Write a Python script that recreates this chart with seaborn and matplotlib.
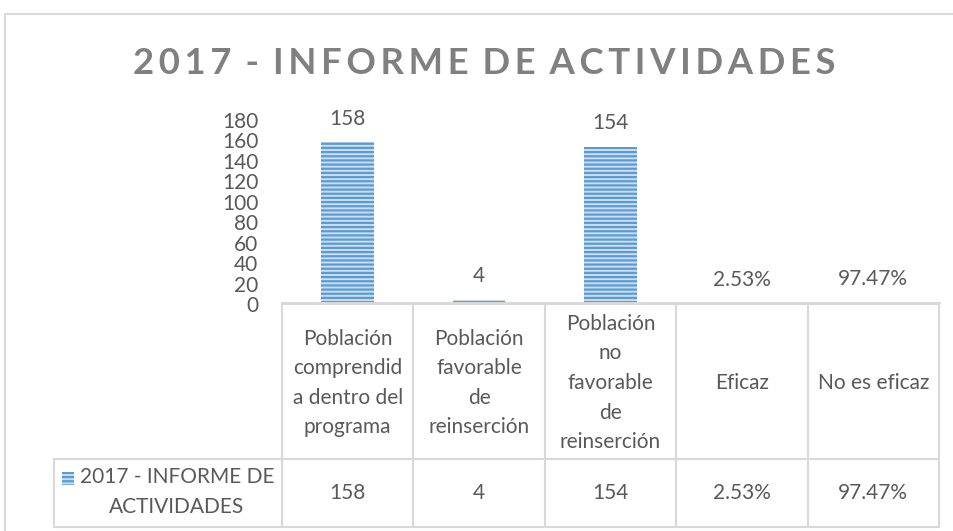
import matplotlib
matplotlib.use('Agg')
import matplotlib.pyplot as plt
import matplotlib.transforms as mtransforms
from matplotlib.lines import Line2D
from matplotlib.patches import Rectangle
import pandas as pd
import seaborn as sns

# datos del gráfico
titulo = '2017 - INFORME DE ACTIVIDADES'
categorias = ['Población\ncomprendid\na dentro del\nprograma',
              'Población\nfavorable\nde\nreinserción',
              'Población\nno\nfavorable\nde\nreinserción',
              'Eficaz',
              'No es eficaz']
valores = [158, 4, 154, 0.0253, 0.9747]
etiquetas = ['158', '4', '154', '2.53%', '97.47%']
serie = '2017 - INFORME DE\nACTIVIDADES'
ticks_y = [0, 20, 40, 60, 80, 100, 120, 140, 160, 180]

gris_texto = '#595959'
gris_linea = '#d9d9d9'
azul = '#5b9bd5'
azul_claro = '#c9ddf2'

sns.set_theme(style='white')
plt.rcParams['font.family'] = ['Lato', 'DejaVu Sans']
plt.rcParams['hatch.linewidth'] = 1.6

W, H = 954, 531
fig = plt.figure(figsize=(W / 100, H / 100), dpi=100)

def fx(px):
    return px / W

def fy(py):
    return 1 - py / H

ax = fig.add_axes([fx(282), fy(304), fx(939) - fx(282), fy(120) - fy(304)])

df = pd.DataFrame({'cat': categorias, 'valor': valores})
sns.barplot(data=df, x='cat', y='valor', ax=ax, width=0.4,
            color=azul_claro, edgecolor=azul, linewidth=0)
for p in ax.patches:
    p.set_hatch('----')

ax.bar_label(ax.containers[0], labels=etiquetas, padding=10,
             fontsize=15, color=gris_texto)

ax.set_xlim(-0.5, len(categorias) - 0.5)
ax.set_ylim(0, 180)
ax.set_yticks(ticks_y)
ax.set_yticklabels([str(t) for t in ticks_y], fontsize=15, color=gris_texto)
ax.tick_params(axis='y', length=0, pad=17)
ax.set_xticks([])
ax.set_xlabel('')
ax.set_ylabel('')
for s in ax.spines.values():
    s.set_visible(False)

# título con espaciado entre letras
espaciado = '\u2009'.join(titulo).replace('\u2009 \u2009', '\u2009\u2009\u2009')
fig.text(fx(484), fy(64), espaciado,
         ha='center', va='center', fontsize=26.3, fontweight='bold',
         color='#808080')

# tabla de datos
trans = mtransforms.blended_transform_factory(ax.transData, fig.transFigure)
n = len(categorias)
lw = 1.5
for y in [303, 459, 527]:
    x0 = 282 if y == 303 else 54
    fig.add_artist(Line2D([fx(x0), fx(939)], [fy(y), fy(y)],
                          color=gris_linea, lw=lw if y != 303 else 2.2))
for i in range(n + 1):
    xv = i - 0.5
    fig.add_artist(Line2D([xv, xv], [fy(303), fy(527)], transform=trans,
                          color=gris_linea, lw=lw))
fig.add_artist(Line2D([fx(54), fx(54)], [fy(459), fy(527)],
                      color=gris_linea, lw=lw))

for i, (c, e) in enumerate(zip(categorias, etiquetas)):
    fig.text(i, fy(383), c, transform=trans, ha='center', va='center',
             fontsize=15, color=gris_texto, linespacing=1.6)
    fig.text(i, fy(493), e, transform=trans, ha='center', va='center',
             fontsize=15, color=gris_texto)

# leyenda en la tabla
fig.add_artist(Rectangle((fx(62), fy(485)), fx(74) - fx(62), fy(472) - fy(485),
                         transform=fig.transFigure, facecolor=azul_claro,
                         edgecolor=azul, linewidth=0, hatch='----'))
fig.text(fx(177), fy(492), serie, ha='center', va='center', fontsize=15,
         color=gris_texto, linespacing=1.6)

# marco exterior
fig.add_artist(Line2D([fx(5), fx(5), 1.0], [0.0, fy(14), fy(14)],
                      color=gris_linea, lw=1.5))

fig.savefig('out.png', dpi=100, facecolor='white')
